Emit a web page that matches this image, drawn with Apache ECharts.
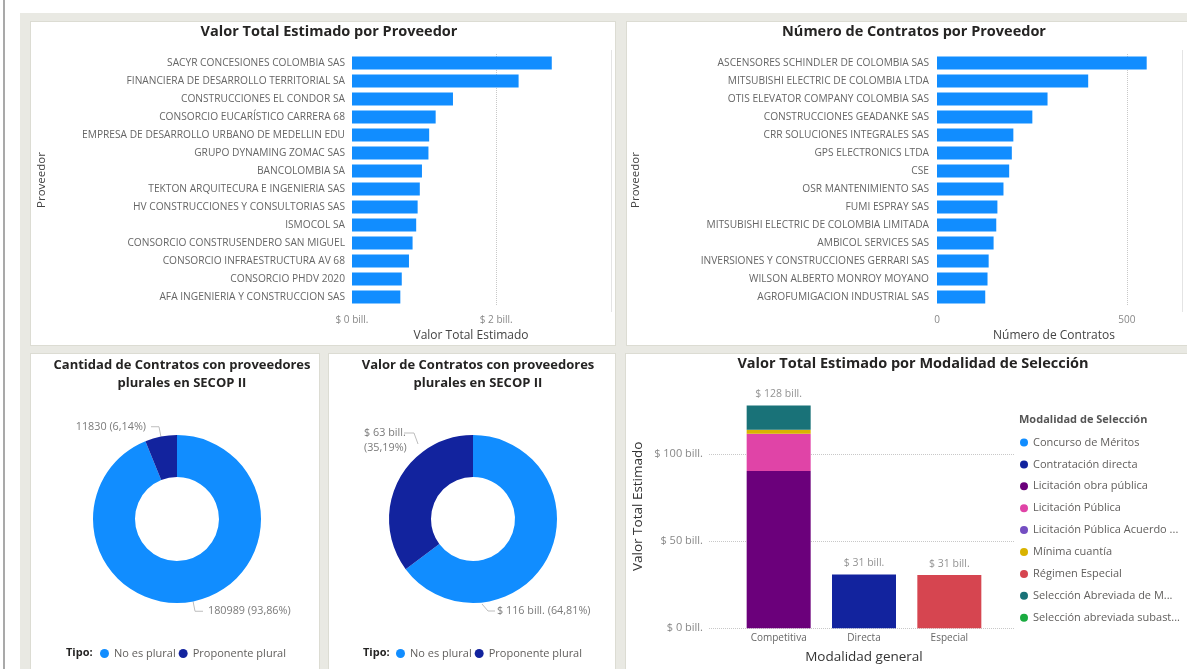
<!DOCTYPE html>
<html><head><meta charset="utf-8">
<script src="https://cdn.jsdelivr.net/npm/echarts@6/dist/echarts.min.js"></script>
<style>
html,body{margin:0;padding:0;width:1187px;height:669px;overflow:hidden;background:#fff;}
#bg{position:absolute;left:20px;top:13px;right:0;bottom:0;background:#E9E9E3;}
.edge{position:absolute;left:3px;top:0;width:2px;height:669px;background:#A9A9A9;}
.panel{position:absolute;background:#fff;border:1px solid #DCDCD3;box-sizing:border-box;}
.sb{position:absolute;width:1px;background:#E4E4E4;}
#chart{position:absolute;left:0;top:0;width:1187px;height:669px;}
</style></head>
<body>
<div class="edge"></div><div id="bg"></div>
<div class="panel" style="left:30px;top:21px;width:586px;height:325px"></div>
<div class="panel" style="left:626px;top:21px;width:570px;height:325px"></div>
<div class="panel" style="left:30px;top:353px;width:290px;height:330px"></div>
<div class="panel" style="left:328px;top:353px;width:288px;height:330px"></div>
<div class="panel" style="left:625px;top:353px;width:570px;height:330px"></div>
<div class="sb" style="left:611px;top:50px;height:262px"></div>
<div class="sb" style="left:1182px;top:50px;height:262px"></div>
<div id="chart"></div>
<script>
// ---- Data ----
const proveedoresValor = ['SACYR CONCESIONES COLOMBIA SAS','FINANCIERA DE DESARROLLO TERRITORIAL SA','CONSTRUCCIONES EL CONDOR SA','CONSORCIO EUCARÍSTICO CARRERA 68','EMPRESA DE DESARROLLO URBANO DE MEDELLIN EDU','GRUPO DYNAMING ZOMAC SAS','BANCOLOMBIA SA','TEKTON ARQUITECURA E INGENIERIA SAS','HV CONSTRUCCIONES Y CONSULTORIAS SAS','ISMOCOL SA','CONSORCIO CONSTRUSENDERO SAN MIGUEL','CONSORCIO INFRAESTRUCTURA AV 68','CONSORCIO PHDV 2020','AFA INGENIERIA Y CONSTRUCCION SAS'];
const valorTotalBill = [2.77, 2.31, 1.40, 1.16, 1.07, 1.06, 0.97, 0.94, 0.91, 0.89, 0.84, 0.79, 0.69, 0.67];

const proveedoresContratos = ['ASCENSORES SCHINDLER DE COLOMBIA SAS','MITSUBISHI ELECTRIC DE COLOMBIA LTDA','OTIS ELEVATOR COMPANY COLOMBIA SAS','CONSTRUCCIONES GEADANKE SAS','CRR SOLUCIONES INTEGRALES SAS','GPS ELECTRONICS LTDA','CSE','OSR MANTENIMIENTO SAS','FUMI ESPRAY SAS','MITSUBISHI ELECTRIC DE COLOMBIA LIMITADA','AMBICOL SERVICES SAS','INVERSIONES Y CONSTRUCCIONES GERRARI SAS','WILSON ALBERTO MONROY MOYANO','AGROFUMIGACION INDUSTRIAL SAS'];
const numeroContratos = [552, 398, 291, 251, 201, 197, 190, 175, 159, 156, 149, 136, 133, 127];

const tipos = ['No es plural', 'Proponente plural'];
const cantidadContratosTipo = [180989, 11830];
const valorContratosTipoBill = [116.2, 63.1];

const modalidadesGenerales = ['Competitiva', 'Directa', 'Especial'];
const modalidadesSeleccion = ['Concurso de Méritos','Contratación directa','Licitación obra pública','Licitación Pública','Licitación Pública Acuerdo Marco de Precios','Mínima cuantía','Régimen Especial','Selección Abreviada de Menor Cuantía','Selección abreviada subasta inversa'];
const etiquetasLeyenda = ['Concurso de Méritos','Contratación directa','Licitación obra pública','Licitación Pública','Licitación Pública Acuerdo ...','Mínima cuantía','Régimen Especial','Selección Abreviada de M...','Selección abreviada subast...'];
// values in bill., per modalidad general [Competitiva, Directa, Especial]
const concursoMeritos      = [0, 0, 0];
const contratacionDirecta  = [0, 30.9, 0];
const licitacionObra       = [90.2, 0, 0];
const licitacionPublica    = [21.4, 0, 0];
const licitacionAcuerdo    = [0, 0, 0];
const minimaCuantia        = [2.3, 0, 0];
const regimenEspecial      = [0, 0, 30.6];
const seleccionAbreviada   = [14.0, 0, 0];
const seleccionSubasta     = [0, 0, 0];

// ---- Styles ----
const FONT = "'Open Sans', 'Noto Sans', sans-serif";
const BLUE = '#118DFF';
const tipoColors = ['#118DFF', '#12239E'];
const modColors = ['#118DFF','#12239E','#6B007B','#E044A7','#744EC2','#D9B300','#D64550','#197278','#1AAB40'];
const TITLE_C = '#252423', LABEL_C = '#666666', TICK_C = '#888888';

const modSeries = [concursoMeritos, contratacionDirecta, licitacionObra, licitacionPublica, licitacionAcuerdo, minimaCuantia, regimenEspecial, seleccionAbreviada, seleccionSubasta];
const totales = modalidadesGenerales.map((_, i) => modSeries.reduce((s, arr) => s + arr[i], 0));
const pct = p => p.toFixed(2).replace('.', ',') + '%';

const chart = echarts.init(document.getElementById('chart'), null, {renderer: 'canvas'});

const catAxis = (gi, data, margin) => ({
  type: 'category', gridIndex: gi, inverse: true, data: data,
  axisLine: {show: false}, axisTick: {show: false},
  axisLabel: {interval: 0, fontSize: 10.2, color: LABEL_C, fontFamily: FONT, margin: margin},
  name: 'Proveedor', nameLocation: 'middle', nameRotate: 90,
  nameTextStyle: {fontSize: 11.5, color: '#444', fontFamily: FONT}
});
const bigTitle = {fontSize: 14.5, fontWeight: 'bold', color: TITLE_C, fontFamily: FONT};
const pieTitle = {fontSize: 13, lineHeight: 18, fontWeight: 'bold', color: TITLE_C, fontFamily: FONT};
const tipoLegendText = {fontSize: 11, color: '#605E5C', fontFamily: FONT};

const option = {
  animation: false,
  textStyle: {fontFamily: FONT},
  title: [
    {text: 'Valor Total Estimado por Proveedor', left: 324, top: 19, textAlign: 'center', textStyle: bigTitle},
    {text: 'Número de Contratos por Proveedor', left: 909, top: 19, textAlign: 'center', textStyle: bigTitle},
    {text: 'Cantidad de Contratos con proveedores\nplurales en SECOP II', left: 177, top: 351, textAlign: 'center', textStyle: pieTitle},
    {text: 'Valor de Contratos con proveedores\nplurales en SECOP II', left: 473, top: 351, textAlign: 'center', textStyle: pieTitle},
    {text: 'Valor Total Estimado por Modalidad de Selección', left: 908, top: 351, textAlign: 'center', textStyle: bigTitle},
    {text: 'Modalidad de Selección', left: 1014, top: 409, textStyle: {fontSize: 11, fontWeight: 'bold', color: '#555', fontFamily: FONT}},
    {text: 'Tipo:', left: 61, top: 642, textStyle: {fontSize: 11, fontWeight: 'bold', color: TITLE_C, fontFamily: FONT}},
    {text: 'Tipo:', left: 358, top: 642, textStyle: {fontSize: 11, fontWeight: 'bold', color: TITLE_C, fontFamily: FONT}}
  ],
  legend: [
    {data: tipos, left: 95, top: 643, itemWidth: 9, itemHeight: 9, itemGap: 3, icon: 'circle', textStyle: tipoLegendText},
    {data: tipos, left: 391, top: 643, itemWidth: 9, itemHeight: 9, itemGap: 3, icon: 'circle', textStyle: tipoLegendText},
    {data: modalidadesSeleccion, orient: 'vertical', left: 1015, top: 430.5, itemWidth: 8, itemHeight: 8, itemGap: 7.9, icon: 'circle',
     formatter: n => etiquetasLeyenda[modalidadesSeleccion.indexOf(n)],
     textStyle: {fontSize: 11, lineHeight: 14, color: '#605E5C', fontFamily: FONT}}
  ],
  grid: [
    {left: 352, top: 54, width: 238, height: 252},
    {left: 937, top: 54, width: 234, height: 252},
    {left: 736, top: 384.3, width: 256, height: 244},
    {left: 709, top: 384.3, width: 305, height: 244}
  ],
  xAxis: [
    {type: 'value', gridIndex: 0, min: 0, max: 3.3, interval: 2,
     axisLine: {show: false}, axisTick: {show: false},
     axisLabel: {formatter: v => '$ ' + v + ' bill.', fontSize: 10, color: TICK_C, margin: 9, showMaxLabel: false},
     splitLine: {show: true, showMinLine: false, showMaxLine: false, lineStyle: {type: 'dotted', color: '#C8C8C8'}},
     name: 'Valor Total Estimado', nameLocation: 'middle', nameGap: 24,
     nameTextStyle: {fontSize: 12, color: '#444', fontFamily: FONT}},
    {type: 'value', gridIndex: 1, min: 0, max: 616, interval: 500,
     axisLine: {show: false}, axisTick: {show: false},
     axisLabel: {fontSize: 10, color: TICK_C, margin: 9, showMaxLabel: false},
     splitLine: {show: true, showMinLine: false, showMaxLine: false, lineStyle: {type: 'dotted', color: '#C8C8C8'}},
     name: 'Número de Contratos', nameLocation: 'middle', nameGap: 24,
     nameTextStyle: {fontSize: 12, color: '#444', fontFamily: FONT}},
    {type: 'category', gridIndex: 2, data: modalidadesGenerales,
     axisLine: {show: false}, axisTick: {show: false},
     axisLabel: {fontSize: 10, color: LABEL_C, margin: 5},
     name: 'Modalidad general', nameLocation: 'middle', nameGap: 22,
     nameTextStyle: {fontSize: 13.5, color: '#333', fontFamily: FONT}},
    {type: 'value', gridIndex: 3, min: 0, max: 1, show: false}
  ],
  yAxis: [
    Object.assign(catAxis(0, proveedoresValor, 7), {nameGap: 304}),
    Object.assign(catAxis(1, proveedoresContratos, 8), {nameGap: 295}),
    {type: 'value', gridIndex: 2, min: 0, max: 140, interval: 50,
     axisLine: {show: false}, axisTick: {show: false}, splitLine: {show: false},
     axisLabel: {formatter: v => '$ ' + v + ' bill.', fontSize: 11, color: TICK_C, margin: 33, showMaxLabel: false},
     name: 'Valor Total Estimado', nameLocation: 'middle', nameGap: 91, nameRotate: 90,
     nameTextStyle: {fontSize: 13.5, color: '#333', fontFamily: FONT}},
    {type: 'value', gridIndex: 3, min: 0, max: 140, interval: 50,
     axisLine: {show: false}, axisTick: {show: false}, axisLabel: {show: false},
     splitLine: {show: true, showMaxLine: false, lineStyle: {type: 'dotted', color: '#C8C8C8'}}}
  ],
  series: [
    {type: 'bar', name: 'Valor Total Estimado', xAxisIndex: 0, yAxisIndex: 0, data: valorTotalBill,
     barWidth: 13, itemStyle: {color: BLUE}},
    {type: 'bar', name: 'Número de Contratos', xAxisIndex: 1, yAxisIndex: 1, data: numeroContratos,
     barWidth: 13, itemStyle: {color: BLUE}},
    {type: 'pie', name: 'Cantidad', center: [177, 519], radius: [42, 84], startAngle: 90, clockwise: true,
     data: tipos.map((n, i) => ({name: n, value: cantidadContratosTipo[i], itemStyle: {color: tipoColors[i]}})),
     label: {formatter: p => p.value + ' (' + pct(p.percent) + ')', fontSize: 10.8, color: '#7a7a7a', fontFamily: FONT},
     labelLine: {length: 10, length2: 8, lineStyle: {color: '#bdbdbd', width: 1}},
     emphasis: {disabled: true}},
    {type: 'pie', name: 'Valor', center: [473, 519], radius: [42, 84], startAngle: 90, clockwise: true,
     data: tipos.map((n, i) => ({name: n, value: valorContratosTipoBill[i], itemStyle: {color: tipoColors[i]}})),
     label: {formatter: p => '$ ' + Math.round(p.value) + ' bill.' + (p.dataIndex === 1 ? '\n' : ' ') + '(' + pct(p.percent) + ')',
             fontSize: 10.8, lineHeight: 15, color: '#7a7a7a', fontFamily: FONT, align: 'left'},
     labelLine: {length: 10, length2: 8, lineStyle: {color: '#bdbdbd', width: 1}},
     labelLayout: p => p.dataIndex === 0
        ? {x: 497, y: 611, align: 'left', verticalAlign: 'middle', labelLinePoints: [[482, 604], [488, 611], [495, 611]]}
        : {x: 364, y: 440, align: 'left', verticalAlign: 'middle', labelLinePoints: [[418, 444], [414, 433], [404, 433]]},
     emphasis: {disabled: true}}
  ].concat(modalidadesSeleccion.map((n, i) => ({
     type: 'bar', name: n, xAxisIndex: 2, yAxisIndex: 2, stack: 'modalidad', data: modSeries[i],
     barWidth: 64, itemStyle: {color: modColors[i]}
  }))).concat([
    {type: 'scatter', name: 'Total', xAxisIndex: 2, yAxisIndex: 2, data: totales, symbolSize: 1,
     itemStyle: {color: 'rgba(0,0,0,0)'},
     label: {show: true, position: 'top', distance: 5, formatter: p => '$ ' + Math.round(p.value) + ' bill.',
             fontSize: 10.5, color: '#777', fontFamily: FONT}}
  ])
};
chart.setOption(option);
</script>
</body></html>
